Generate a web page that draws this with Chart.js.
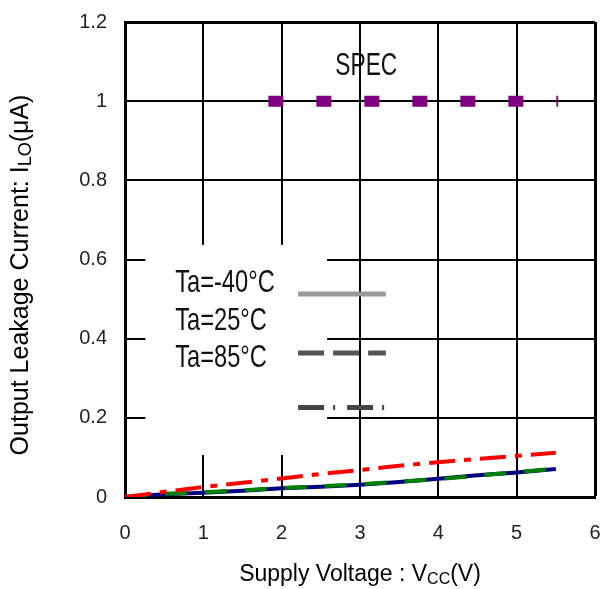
<!DOCTYPE html>
<html>
<head>
<meta charset="utf-8">
<script src="https://cdn.jsdelivr.net/npm/chart.js@4"></script>
<style>
    html, body { margin: 0; padding: 0; background: #fff; }
    #wrap { width: 600px; height: 589px; position: relative; }
</style>
</head>
<body>
<div id="wrap"><canvas id="myChart"></canvas></div>
<script>
// Supply voltage (V)
const voltages = [0, 0.5, 1, 1.5, 2, 2.5, 3, 3.5, 4, 4.5, 5, 5.5];

// Output leakage current (uA) per ambient temperature
const leakM40 = [0, 0.007, 0.011, 0.016, 0.022, 0.026, 0.031, 0.038, 0.046, 0.055, 0.062, 0.071];
const leak25  = [0, 0.008, 0.012, 0.017, 0.023, 0.027, 0.032, 0.039, 0.045, 0.054, 0.063, 0.072];
const leak85  = [0, 0.013, 0.025, 0.036, 0.047, 0.058, 0.068, 0.079, 0.088, 0.096, 0.104, 0.112];

// SPEC limit line
const specVoltages = [1.83, 5.53];
const specLimit = [1, 1];

const seriesLabels = ['Ta=-40°C', 'Ta=25°C', 'Ta=85°C'];
const xTicks = [0, 1, 2, 3, 4, 5, 6];
const yTicks = [0, 0.2, 0.4, 0.6, 0.8, 1, 1.2];

const FONT = '"Liberation Sans", Arial, sans-serif';

function toPoints(xs, ys) {
    return xs.map((x, i) => ({ x: x, y: ys[i] }));
}

// text made of pieces, some of them subscript
function drawSubText(ctx, parts, cx, baseY, size) {
    const subSize = Math.round(size * 0.7);
    let total = 0;
    parts.forEach(p => {
        ctx.font = (p[1] ? subSize : size) + 'px ' + FONT;
        total += ctx.measureText(p[0]).width;
    });
    let x = cx - total / 2;
    parts.forEach(p => {
        ctx.font = (p[1] ? subSize : size) + 'px ' + FONT;
        ctx.fillText(p[0], x, p[1] ? baseY + 3 : baseY);
        x += ctx.measureText(p[0]).width;
    });
}

// narrow text like the bitmap font of the original
function drawNarrow(ctx, text, x, y, size, squeeze, align) {
    ctx.save();
    ctx.font = size + 'px ' + FONT;
    ctx.textAlign = align || 'left';
    ctx.translate(x, y);
    ctx.scale(squeeze, 1);
    ctx.fillText(text, 0, 0);
    ctx.restore();
}

const decorPlugin = {
    id: 'decor',
    beforeDatasetsDraw(chart) {
        const { ctx, scales: { x, y } } = chart;
        // white panel behind the legend hides the grid there
        const l = x.getPixelForValue(0.26), r = x.getPixelForValue(2.58);
        const t = y.getPixelForValue(0.637), b = y.getPixelForValue(0.106);
        ctx.save();
        ctx.fillStyle = '#fff';
        ctx.fillRect(l, t, r - l, b - t);
        ctx.restore();
    },
    afterDraw(chart) {
        const { ctx, scales: { x, y }, chartArea } = chart;
        ctx.save();
        ctx.fillStyle = '#111';
        ctx.textBaseline = 'alphabetic';

        // legend texts
        const labelY = [0.518, 0.422, 0.328];
        seriesLabels.forEach((lab, i) => {
            drawNarrow(ctx, lab, x.getPixelForValue(0.64), y.getPixelForValue(labelY[i]), 32, 0.74);
        });
        drawNarrow(ctx, 'SPEC', x.getPixelForValue(3.08), y.getPixelForValue(1.066), 32, 0.71, 'center');

        // legend line samples
        const sx0 = x.getPixelForValue(2.21), sx1 = x.getPixelForValue(3.33);
        const samples = [
            { v: 0.513, color: '#999', dash: [] },
            { v: 0.364, color: '#555', dash: [26, 9] },
            { v: 0.226, color: '#444', dash: [26, 9, 2, 12] },
        ];
        samples.forEach(s => {
            const py = y.getPixelForValue(s.v);
            ctx.beginPath();
            ctx.strokeStyle = s.color;
            ctx.lineWidth = 5;
            ctx.setLineDash(s.dash);
            ctx.moveTo(sx0, py);
            ctx.lineTo(sx1, py);
            ctx.stroke();
        });
        ctx.setLineDash([]);

        // axis titles
        ctx.fillStyle = '#000';
        drawSubText(ctx, [['Supply Voltage : V', false], ['CC', true], ['(V)', false]],
            (chartArea.left + chartArea.right) / 2, 581, 23);

        ctx.translate(28, 275);
        ctx.rotate(-Math.PI / 2);
        drawSubText(ctx, [['Output Leakage Current: I', false], ['LO', true], ['(μA)', false]], 0, 0, 25);
        ctx.restore();
    }
};

function createChart() {
    const ctx = document.getElementById('myChart').getContext('2d');

    new Chart(ctx, {
        type: 'line',
        data: {
            datasets: [
                {
                    label: 'SPEC',
                    data: toPoints(specVoltages, specLimit),
                    borderColor: '#800080',
                    borderWidth: 11,
                    borderDash: [15, 33],
                    borderCapStyle: 'butt',
                    order: 0,
                },
                {
                    label: seriesLabels[2],
                    data: toPoints(voltages, leak85),
                    borderColor: '#ff0000',
                    borderWidth: 4,
                    borderDash: [26, 9, 7, 9],
                    order: 1,
                },
                {
                    label: seriesLabels[1],
                    data: toPoints(voltages, leak25),
                    borderColor: '#008000',
                    borderWidth: 4,
                    borderDash: [22, 18],
                    order: 2,
                },
                {
                    label: seriesLabels[0],
                    data: toPoints(voltages, leakM40),
                    borderColor: '#000080',
                    borderWidth: 4,
                    order: 3,
                },
            ],
        },
        options: {
            responsive: true,
            maintainAspectRatio: false,
            animation: false,
            layout: { padding: { top: 22, right: 5, left: 0, bottom: 0 } },
            elements: { point: { radius: 0 }, line: { tension: 0 } },
            plugins: {
                legend: { display: false },
                tooltip: { enabled: false },
            },
            scales: {
                x: {
                    type: 'linear',
                    min: 0,
                    max: 6,
                    afterFit(scale) {
                        scale.height = 92;
                        scale.paddingLeft = 0;
                        scale.paddingRight = 0;
                    },
                    afterBuildTicks(scale) { scale.ticks = xTicks.map(v => ({ value: v })); },
                    ticks: { padding: 24, color: '#222', maxRotation: 0, font: { family: FONT, size: 20 } },
                    grid: { color: '#000', lineWidth: c => (c.index === xTicks.length - 1 ? 3 : 2), drawTicks: false },
                    border: { color: '#000', width: 3 },
                },
                y: {
                    min: 0,
                    max: 1.2,
                    afterFit(scale) {
                        scale.width = 125;
                        scale.paddingTop = 0;
                        scale.paddingBottom = 0;
                    },
                    afterBuildTicks(scale) { scale.ticks = yTicks.map(v => ({ value: v })); },
                    ticks: {
                        padding: 18,
                        color: '#222',
                        font: { family: FONT, size: 20 },
                        callback: v => String(v),
                    },
                    grid: { color: '#000', lineWidth: c => (c.index === yTicks.length - 1 ? 3 : 2), drawTicks: false },
                    border: { color: '#000', width: 3 },
                },
            },
        },
        plugins: [decorPlugin],
    });
}

createChart();
</script>
</body>
</html>
